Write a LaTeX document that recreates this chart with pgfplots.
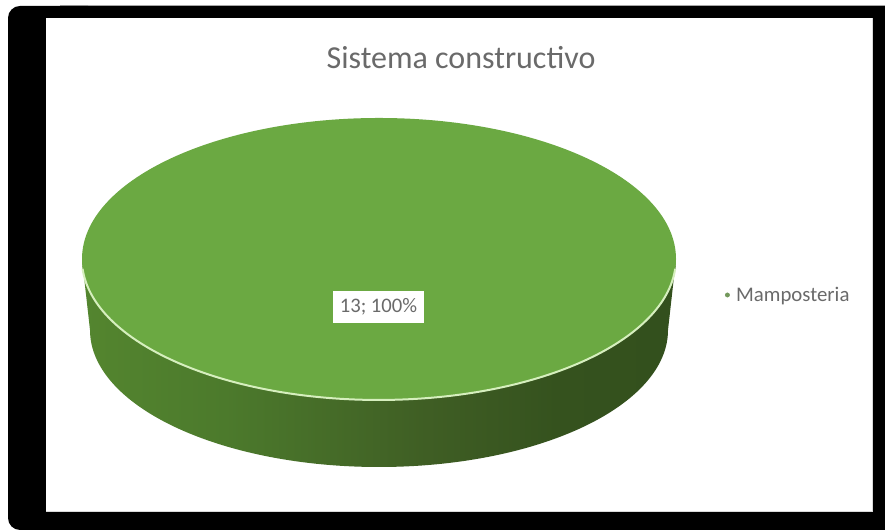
\documentclass[border=0pt]{standalone}
\usepackage{pgfplots}
\usepackage{pgfplotstable}
\usepackage{fontspec}
\setmainfont{Carlito}
\pgfplotsset{compat=1.18}

\definecolor{topface}{HTML}{6BA942}
\definecolor{rimline}{HTML}{D6EFBE}
\definecolor{txt}{HTML}{6A6A6A}
\definecolor{wall0}{HTML}{659C36}
\definecolor{wall1}{HTML}{578A30}
\definecolor{wall2}{HTML}{4C7A2C}
\definecolor{wall3}{HTML}{3F5E24}
\definecolor{wall4}{HTML}{35521E}
\definecolor{wall5}{HTML}{2D4A1A}

% Side wall of the pie: light on the left, dark from the middle on
\pgfdeclarehorizontalshading{pieside}{100bp}{
  color(0bp)=(wall0);
  color(20bp)=(wall1);
  color(37bp)=(wall2);
  color(54bp)=(wall3);
  color(65bp)=(wall4);
  color(100bp)=(wall5)}

% Categories and their counts
\pgfplotstableread{
category value
Mamposteria 13
}\piedata
\pgfplotstablegetelem{0}{value}\of{\piedata}
\let\pieval\pgfplotsretval
\pgfmathtruncatemacro{\piepct}{round(100*\pieval/13)}
\pgfmathsetmacro{\piesweep}{360*\pieval/13}

\begin{document}
\begin{tikzpicture}
\begin{axis}[
  scale only axis, width=663.75pt, height=397.5pt,
  xmin=0, xmax=885, ymin=0, ymax=530,
  hide axis, clip=false,
  legend style={at={(axis cs:725,235)}, anchor=west, draw=none, fill=none,
    font=\fontsize{15.6}{18}\selectfont\color{txt}, inner sep=0pt,
    legend cell align=left},
]
% Page and dark frame: rounded on the left, running off the page on the right
\fill[white] (axis cs:0,0) rectangle (axis cs:885,530);
\fill[gray!70] (axis cs:60,524.8) rectangle (axis cs:885,523.4);
\fill[black, rounded corners=9pt] (axis cs:8,0) rectangle (axis cs:100,524);
\fill[black] (axis cs:60,0) rectangle (axis cs:885,524);
\fill[white] (axis cs:46,17.5) rectangle (axis cs:873,512);
\fill[gray!30] (axis cs:871.8,17.5) rectangle (axis cs:873,512);
\fill[gray!30] (axis cs:46,17.5) rectangle (axis cs:873,18.5);

% Side wall
\shade[shading=pieside, shading angle=0]
  (axis cs:82,271) arc[start angle=180, end angle=360, x radius=297, y radius=141]
  -- (axis cs:668,200) arc[start angle=0, end angle=-180, x radius=289, y radius=137]
  -- cycle;

% Top face, swept by the share of the category
\fill[topface] (axis cs:676,271)
  arc[start angle=0, delta angle=\piesweep, x radius=297, y radius=141] -- cycle;
\draw[rimline, line width=1.5pt] (axis cs:82.6,261.2)
  arc[start angle=184, end angle=356, x radius=297, y radius=141];

% Data label
\node[fill=white, text=txt, font=\fontsize{15.5}{18}\selectfont,
  minimum width=68pt, minimum height=24pt, inner sep=0pt]
  at (axis cs:378.5,223) {\pieval; \piepct\%};

% Title
\node[text=txt, font=\fontsize{24}{28}\selectfont] at (axis cs:461,472) {Sistema constructivo};

\addlegendimage{only marks, mark=*, mark size=1.6pt, color=topface!60!gray}
\addlegendentry{\hspace{3pt}Mamposteria}
\end{axis}
\end{tikzpicture}
\end{document}
